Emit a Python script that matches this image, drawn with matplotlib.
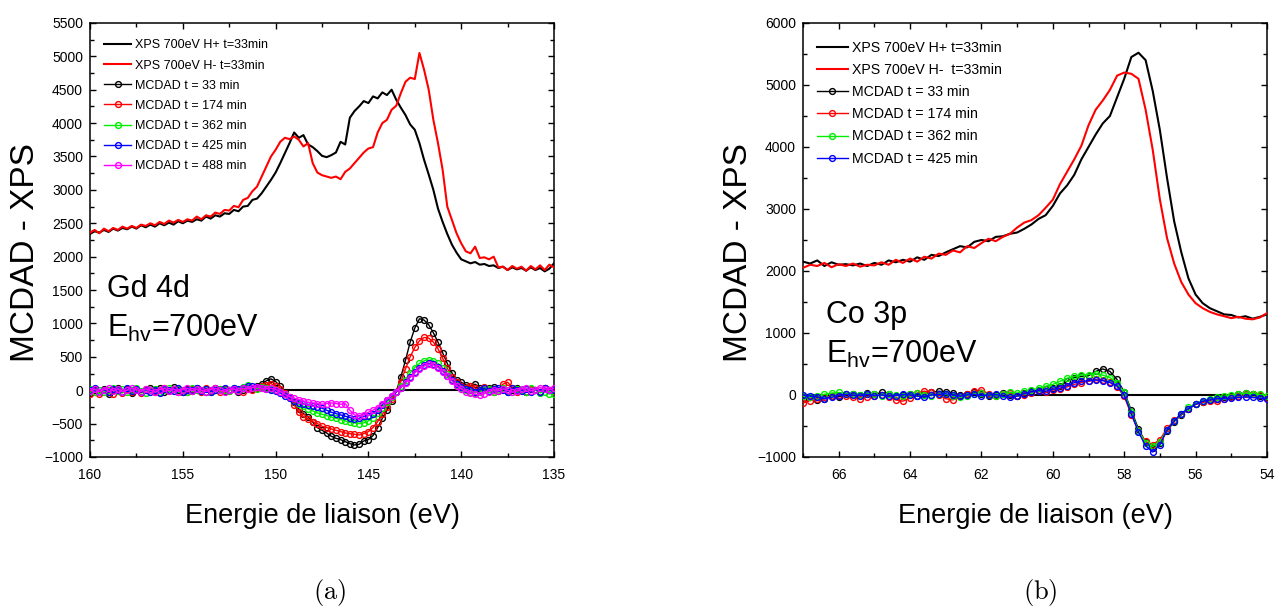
import numpy as np
import matplotlib as mpl
import matplotlib.pyplot as plt
from matplotlib import font_manager
from matplotlib.ticker import MultipleLocator

names = {f.name for f in font_manager.fontManager.ttflist}
SANS = 'Liberation Sans Narrow' if 'Liberation Sans Narrow' in names else 'Liberation Sans'

mpl.rcParams['font.family'] = SANS
mpl.rcParams['mathtext.fontset'] = 'custom'
mpl.rcParams['mathtext.rm'] = SANS
mpl.rcParams['mathtext.it'] = SANS
mpl.rcParams['xtick.direction'] = 'in'
mpl.rcParams['ytick.direction'] = 'in'
mpl.rcParams['xtick.top'] = True
mpl.rcParams['ytick.right'] = True
mpl.rcParams['axes.linewidth'] = 1.1

# ---------------- (a) Gd 4d, binding energy 160 -> 135 eV, step 0.25 eV
E_gd = np.arange(160.0, 134.99, -0.25)

xps_gd_hplus = [
    2340, 2380, 2360, 2400, 2370, 2420, 2390, 2430, 2410, 2450,
    2420, 2470, 2440, 2480, 2450, 2500, 2470, 2510, 2480, 2530,
    2500, 2540, 2520, 2560, 2540, 2600, 2570, 2620, 2600, 2650,
    2640, 2700, 2680, 2750, 2760, 2850, 2870, 2950, 3050, 3150,
    3260, 3400, 3550, 3700, 3860, 3780, 3820, 3680, 3640, 3580,
    3510, 3490, 3520, 3560, 3720, 3680, 4080, 4180, 4250, 4330,
    4300, 4400, 4370, 4460, 4420, 4500, 4350, 4230, 4120, 3980,
    3900, 3700, 3450, 3230, 3000, 2720, 2520, 2340, 2180, 2060,
    1960, 1930, 1900, 1920, 1880, 1890, 1860, 1870, 1830, 1850,
    1800, 1840, 1810, 1830, 1790, 1840, 1800, 1830, 1780, 1820,
    1900]
xps_gd_hminus = [
    2360, 2400, 2350, 2420, 2380, 2430, 2400, 2450, 2420, 2460,
    2430, 2480, 2460, 2500, 2470, 2520, 2490, 2540, 2510, 2550,
    2520, 2560, 2540, 2600, 2560, 2620, 2600, 2660, 2640, 2700,
    2690, 2760, 2740, 2850, 2880, 2980, 3050, 3200, 3350, 3500,
    3600, 3720, 3780, 3760, 3800, 3750, 3650, 3700, 3400, 3260,
    3220, 3200, 3180, 3200, 3160, 3270, 3320, 3400, 3480, 3560,
    3620, 3640, 3860, 4000, 4050, 4200, 4260, 4450, 4620, 4680,
    4660, 5050, 4800, 4500, 4050, 3700, 3300, 2750, 2550, 2350,
    2200, 2080, 2050, 2150, 1980, 1990, 1960, 2000, 1840, 1850,
    1800, 1860, 1820, 1850, 1790, 1860, 1810, 1870, 1800, 1880,
    1840]

mcdad_gd_33 = [
    -40, 10, -30, 20, -50, 0, 30, -20, 10, -40,
    20, -30, 0, 40, -10, 30, -20, 10, 50, 0,
    -30, 20, -10, 30, 0, -20, 10, 30, 20, -10,
    0, 20, -20, 10, 30, 20, 60, 90, 140, 170,
    130, 60, -20, -100, -180, -280, -350, -400, -480, -560,
    -600, -640, -690, -720, -740, -770, -800, -820, -810, -760,
    -740, -680, -560, -420, -300, -160, -20, 200, 450, 720,
    930, 1070, 1050, 980, 860, 720, 560, 400, 260, 150,
    120, 80, 60, 90, 40, 10, 30, 50, -10, 20,
    -20, 10, 40, 0, -30, 20, 10, -20, 30, 0,
    -10]
mcdad_gd_174 = [
    -60, -20, -50, 10, -30, -60, 0, -40, 20, -20,
    0, -40, 20, 10, -30, 0, 30, -10, 20, -20,
    10, -30, 20, 0, -20, 30, -10, 10, -30, 20,
    -10, 20, 0, -20, 30, 10, 40, 60, 80, 100,
    60, 20, -40, -120, -220, -320, -400, -430, -470, -500,
    -540, -560, -580, -600, -620, -640, -650, -660, -670, -650,
    -620, -560, -470, -360, -250, -130, -20, 130, 320, 500,
    640, 740, 790, 780, 720, 620, 480, 330, 200, 120,
    60, 40, 70, 30, 0, 50, 20, -20, 10, 90,
    120, 40, -20, 10, -30, 20, 0, -20, 30, 10,
    -10]
mcdad_gd_362 = [
    20, -20, 10, -30, 0, 30, -10, 20, -20, 10,
    30, -10, -40, 0, 20, -20, 10, 30, -10, 20,
    0, -20, 30, 10, -10, 20, -30, 0, 20, 10,
    -10, 30, 10, 50, 80, 40, 20, 50, 30, 20,
    10, -20, -60, -110, -160, -210, -240, -280, -310, -340,
    -360, -380, -400, -420, -440, -460, -480, -490, -500, -490,
    -460, -410, -340, -260, -180, -100, -20, 60, 160, 260,
    340, 400, 440, 450, 440, 400, 330, 240, 150, 80,
    30, 0, -20, -40, -30, 0, 20, -20, 10, 30,
    0, -30, 20, 10, -20, 30, 0, -40, -20, -50,
    -60]
mcdad_gd_425 = [
    0, 30, -20, 10, -30, 20, 0, -20, 30, -10,
    20, -30, 10, -20, 0, -40, 20, 10, -10, 30,
    -20, 10, 0, 30, -10, 20, -20, 10, 0, 30,
    10, 40, 20, 30, 60, 70, 50, 30, 20, 10,
    -10, -40, -80, -120, -160, -190, -210, -220, -230, -250,
    -270, -300, -330, -350, -370, -390, -410, -430, -420, -390,
    -380, -350, -290, -220, -150, -90, -30, 40, 120, 200,
    280, 340, 380, 400, 390, 350, 290, 220, 150, 90,
    50, 20, 0, -20, 10, 30, -10, 20, 40, 10,
    -20, 30, 0, -10, 20, -30, 10, -20, 30, 0,
    10]
mcdad_gd_488 = [
    -10, 20, -20, 10, 30, -10, 20, -20, 0, 30,
    10, -20, 20, 0, -30, 10, 30, -10, 20, -20,
    10, 30, -10, 20, 0, -20, 10, 30, 0, -20,
    10, 20, -10, 30, 20, 40, 50, 30, 20, 30,
    10, -20, -60, -100, -120, -140, -160, -180, -190, -200,
    -210, -200, -190, -200, -210, -200, -300, -370, -390, -370,
    -330, -300, -260, -200, -140, -80, -20, 40, 110, 190,
    260, 320, 360, 390, 380, 340, 280, 210, 140, 70,
    20, -20, -40, -60, -70, -50, -20, 10, -10, 20,
    0, -30, -10, 20, 30, -10, 10, 40, 20, 10,
    30]

# ---------------- (b) Co 3p, binding energy 67 -> 54 eV, step 0.2 eV
E_co = np.round(np.arange(67.0, 53.99, -0.2), 2)

xps_co_hplus = [
    2150, 2120, 2170, 2080, 2140, 2100, 2110, 2090, 2120, 2080,
    2130, 2100, 2170, 2140, 2180, 2150, 2220, 2180, 2260, 2240,
    2300, 2350, 2400, 2380, 2470, 2500, 2480, 2550, 2560, 2600,
    2620, 2680, 2750, 2840, 2900, 3050, 3250, 3380, 3550, 3800,
    4000, 4200, 4380, 4500, 4800, 5100, 5450, 5520, 5400, 4900,
    4270, 3500, 2800, 2300, 1880, 1620, 1480, 1400, 1350, 1300,
    1290, 1250, 1270, 1230, 1260, 1300]
xps_co_hminus = [
    2050, 2100, 2080, 2130, 2060, 2110, 2080, 2120, 2070, 2100,
    2090, 2140, 2100, 2180, 2130, 2200, 2150, 2230, 2200, 2280,
    2260, 2330, 2300, 2400, 2370, 2450, 2520, 2480, 2550, 2600,
    2700, 2780, 2820, 2900, 3020, 3150, 3400, 3600, 3800, 4020,
    4350, 4600, 4750, 4920, 5150, 5200, 5180, 5100, 4600, 3950,
    3150, 2530, 2120, 1820, 1620, 1480, 1400, 1340, 1300, 1270,
    1240, 1260, 1230, 1220, 1250, 1320]

mcdad_co_33 = [
    -60, -40, -80, -60, -20, -30, 10, 20, 0, 30,
    10, 40, 20, -10, 0, 20, -20, 10, 40, 60,
    50, 30, 0, 20, 40, 10, -20, 0, 30, 0,
    -10, 30, 60, 80, 100, 110, 150, 220, 280, 300,
    310, 380, 420, 380, 250, 50, -250, -550, -760, -850,
    -780, -580, -430, -320, -230, -150, -110, -80, -60, -40,
    -10, 20, 30, 10, -20, -30]
mcdad_co_174 = [
    -130, -90, -60, -40, -20, 0, -20, -40, -60, -30,
    -20, 0, -30, -80, -100, -50, 30, 60, 40, 0,
    -60, -80, -20, 20, 60, 80, 20, -20, 10, 30,
    -20, 0, 30, 60, 40, 80, 100, 130, 170, 200,
    220, 250, 240, 210, 130, -20, -320, -580, -750, -800,
    -720, -540, -410, -310, -220, -150, -120, -100, -90, -70,
    -40, -20, 10, 20, 0, -50]
mcdad_co_362 = [
    -20, -40, -20, 10, 30, 40, 20, 10, 0, 20,
    10, -10, 20, 0, -20, 10, 30, 0, -10, 20,
    10, -20, -40, -10, 20, 30, 0, -20, 10, 40,
    30, 60, 80, 110, 140, 170, 220, 270, 300, 320,
    330, 340, 320, 280, 200, 40, -280, -580, -770, -830,
    -760, -560, -420, -300, -200, -140, -90, -60, -40, -20,
    0, 10, 30, 20, 10, -10]
mcdad_co_425 = [
    0, -20, -30, -60, -40, -10, 10, 0, -10, 10,
    -10, 0, -20, -10, 10, 0, -20, -30, 0, 10,
    20, 0, -20, 0, 10, -10, 0, 10, -20, -40,
    -20, 20, 50, 70, 60, 90, 110, 150, 200, 220,
    230, 240, 230, 200, 150, 0, -300, -600, -820, -920,
    -800, -560, -420, -300, -220, -150, -100, -80, -60, -60,
    -50, -40, -30, -40, -50, -60]

xps_labels_gd = ['XPS 700eV H+ t=33min', 'XPS 700eV H- t=33min']
xps_labels_co = ['XPS 700eV H+ t=33min', 'XPS 700eV H-  t=33min']
mcdad_labels = ['MCDAD t = 33 min', 'MCDAD t = 174 min', 'MCDAD t = 362 min',
                'MCDAD t = 425 min', 'MCDAD t = 488 min']
mcdad_colors = ['black', '#ff0000', '#00ee00', '#0000ff', '#ff00ff']


def style_axes(ax, xlim, ylim, xmaj, xmin, ymaj, ymin):
    ax.set_xlim(*xlim)
    ax.set_ylim(*ylim)
    ax.xaxis.set_major_locator(MultipleLocator(xmaj))
    ax.xaxis.set_minor_locator(MultipleLocator(xmin))
    ax.yaxis.set_major_locator(MultipleLocator(ymaj))
    ax.yaxis.set_minor_locator(MultipleLocator(ymin))
    ax.tick_params(which='both', direction='in', top=True, right=True, width=1.0)
    ax.tick_params(which='major', length=4.5, labelsize=10)
    ax.tick_params(which='minor', length=3)
    ax.tick_params(axis='x', pad=8)
    ax.tick_params(axis='y', pad=5)
    ax.set_xlabel('Energie de liaison (eV)', fontsize=19.5)
    ax.set_ylabel('MCDAD - XPS', fontsize=24)
    ax.xaxis.set_label_coords(0.5, -0.105)
    ax.yaxis.set_label_coords(-0.105, 0.47)


def plot_panel(ax, E, xps, xps_labels, mcdads, legend_size, anchor, spacing):
    ax.axhline(0, color='black', lw=1.5, zorder=1)
    ax.plot(E, xps[0], color='black', lw=1.5, label=xps_labels[0], zorder=3)
    ax.plot(E, xps[1], color='#ff0000', lw=1.5, label=xps_labels[1], zorder=3)
    for i, vals in enumerate(mcdads):
        ax.plot(E, vals, '-o', color=mcdad_colors[i], lw=1.0, ms=4.2, mew=1.0,
                mfc='none', label=mcdad_labels[i], zorder=4 + i)
    ax.legend(loc='upper left', bbox_to_anchor=anchor, frameon=False,
              fontsize=legend_size, numpoints=1, handlelength=2.2,
              handletextpad=0.3, labelspacing=spacing, borderpad=0, borderaxespad=0)


fig = plt.figure(figsize=(12.75, 6.12), dpi=100)
ax1 = fig.add_axes([0.0706, 0.2533, 0.3639, 0.7092])
ax2 = fig.add_axes([0.6298, 0.2533, 0.3639, 0.7092])

plot_panel(ax1, E_gd, [xps_gd_hplus, xps_gd_hminus], xps_labels_gd,
           [mcdad_gd_33, mcdad_gd_174, mcdad_gd_362, mcdad_gd_425, mcdad_gd_488],
           9, (0.03, 0.962), 0.65)
style_axes(ax1, (160, 135), (-1000, 5500), 5, 2.5, 500, 250)
ax1.text(0.037, 0.369, 'Gd 4d', transform=ax1.transAxes, fontsize=22)
ax1.text(0.037, 0.276, r'E$_{\mathrm{hv}}$=700eV', transform=ax1.transAxes, fontsize=22)

plot_panel(ax2, E_co, [xps_co_hplus, xps_co_hminus], xps_labels_co,
           [mcdad_co_33, mcdad_co_174, mcdad_co_362, mcdad_co_425],
           10.2, (0.03, 0.958), 0.57)
style_axes(ax2, (67, 54), (-1000, 6000), 2, 1, 1000, 500)
ax2.text(0.05, 0.309, 'Co 3p', transform=ax2.transAxes, fontsize=22)
ax2.text(0.05, 0.217, r'E$_{\mathrm{hv}}$=700eV', transform=ax2.transAxes, fontsize=22)

fig.text(330 / 1275, 1 - 592 / 612, r'$\mathrm{(a)}$', math_fontfamily='cm',
         fontsize=19, ha='center', va='center')
fig.text(1040 / 1275, 1 - 592 / 612, r'$\mathrm{(b)}$', math_fontfamily='cm',
         fontsize=19, ha='center', va='center')

fig.savefig('out.png', dpi=100)
